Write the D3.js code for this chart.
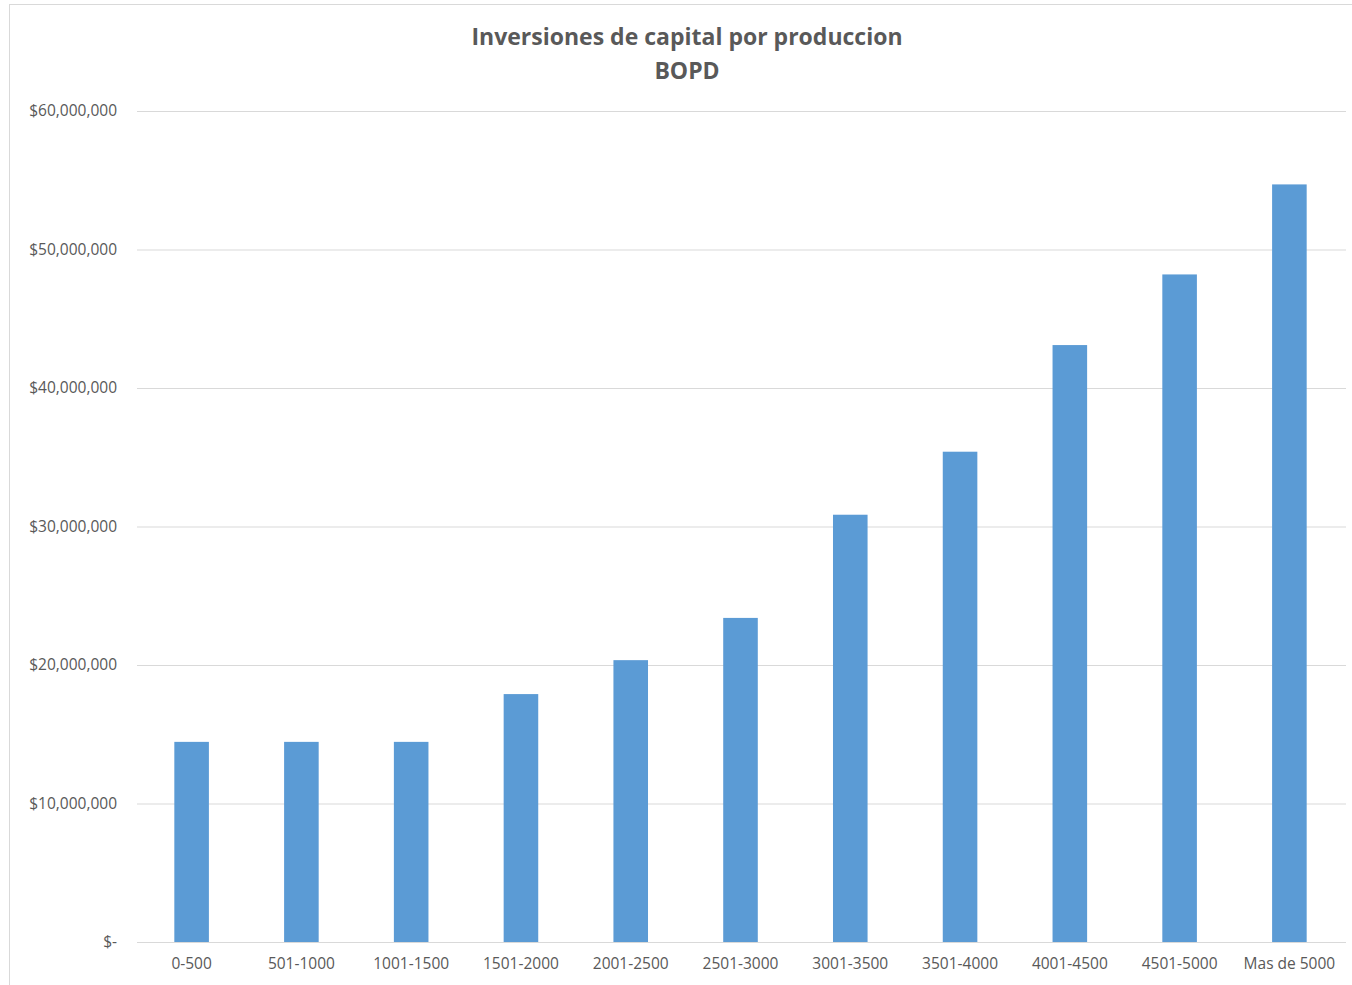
<!DOCTYPE html>
<html><head><meta charset="utf-8">
<script src="https://cdn.jsdelivr.net/npm/d3@7"></script>
<style>body{margin:0;background:#fff;}svg{display:block;}</style>
</head><body>
<svg id="chart" width="1352" height="985"></svg>
<script>
const categories = ["0-500","501-1000","1001-1500","1501-2000","2001-2500","2501-3000","3001-3500","3501-4000","4001-4500","4501-5000","Mas de 5000"];
const values = [14450000,14450000,14450000,17900000,20350000,23400000,30850000,35400000,43100000,48200000,54700000];
const yTicks = [0,10000000,20000000,30000000,40000000,50000000,60000000];
const titleLines = ["Inversiones de capital por produccion","BOPD"];

const svg = d3.select("#chart");
const font = "'Open Sans', 'Noto Sans', sans-serif";
svg.append("rect").attr("x",9.5).attr("y",4.5).attr("width",1360).attr("height",1000)
  .attr("fill","#fff").attr("stroke","#d9d9d9");

const x = d3.scaleBand().domain(categories).range([137,1344]).paddingInner(0.685).paddingOuter(0.34);
const y = d3.scaleLinear().domain([0,60000000]).range([942,111]);

const fmt = d => d===0 ? "$-" : "$" + d3.format(",")(d);

const yAxis = svg.append("g").attr("transform","translate(137,0)")
  .call(d3.axisLeft(y).tickValues(yTicks).tickSize(-1209).tickFormat(fmt).tickPadding(20));
yAxis.select(".domain").remove();
yAxis.selectAll("line").attr("stroke","#d9d9d9").attr("stroke-width",1);
yAxis.selectAll("text").attr("fill","#595959").attr("font-family",font).attr("font-size",15.5);

svg.append("g").selectAll("rect").data(values).join("rect")
  .attr("x",(d,i)=>x(categories[i])).attr("width",x.bandwidth())
  .attr("y",d=>y(d)).attr("height",d=>y(0)-y(d)).attr("fill","#5b9bd5");

const xAxis = svg.append("g").attr("transform","translate(0,942)")
  .call(d3.axisBottom(x).tickSize(0).tickPadding(16));
xAxis.select(".domain").attr("stroke","#d9d9d9");
xAxis.selectAll("text").attr("fill","#595959").attr("font-family",font).attr("font-size",15.5);

svg.append("g").selectAll("text").data(titleLines).join("text")
  .attr("x",687).attr("y",(d,i)=>45+i*34).attr("text-anchor","middle")
  .attr("fill","#595959").attr("font-family",font).attr("font-weight","bold").attr("font-size",23)
  .text(d=>d);
</script>
</body></html>
